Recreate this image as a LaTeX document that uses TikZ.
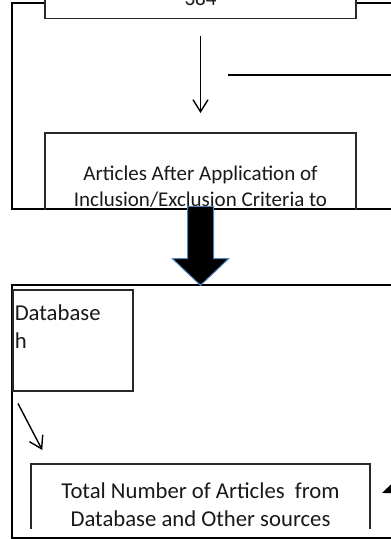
\documentclass[tikz,border=0pt]{standalone}
\usepackage{fontspec}
\setmainfont{Carlito}
\usepackage{tikz}
\usetikzlibrary{arrows.meta,shapes.arrows,calc}
\usetikzlibrary{positioning}

\definecolor{boxgray}{RGB}{40,40,40}
\definecolor{arrowblue}{RGB}{79,129,189}

\begin{document}
\begin{tikzpicture}[x=1pt,y=-1pt,>={Straight Barb[length=12pt,width=15pt]},
                    frame/.style={draw=black,line width=1.8pt},
                    box/.style={rectangle,draw=boxgray,line width=1.5pt,text=black!90},
                    small text/.style={font=\fontsize{21}{25.5}\selectfont},
                    big text/.style={font=\fontsize{22.7}{28.5}\selectfont},
                    flow/.style={->,line width=1.4pt},
                    block arrow/.style={single arrow,draw=arrowblue,fill=black,line width=1pt,
                        shape border rotate=270,inner sep=12.5pt,single arrow head extend=15pt,
                        single arrow tip angle=93,minimum height=79pt}]

\useasboundingbox (0,0) rectangle (391,539);
\clip (0,0) rectangle (391,539);

% upper panel
\draw[frame] (400,3) -| (12,209) -- (400,209);
\begin{scope}
\clip (12,-5) rectangle (400,209);
\node[box,small text,fill=white] (B1) at (200.5,19) [anchor=south, minimum width=311pt, minimum height=39pt] {384};
\node[box,small text,align=center] (B2) at (200.5,132) [anchor=north, minimum width=311pt, minimum height=108pt] {Articles After Application of\\Inclusion/Exclusion Criteria to};
\end{scope}
\coordinate (X1) at (228,75);
\coordinate (X2) at (400,75);

\path
    (B1) edge [flow,shorten <=17pt,shorten >=19pt] (B2)
    (X1) edge [line width=1.4pt] (X2)
    ;

% lower panel
\draw[frame] (400,285) -| (12,538) -- (400,538);
\begin{scope}
\clip (12,285) rectangle (400,528);
\node[box,big text] (DB) at (12,289) [anchor=north west, minimum width=120pt, minimum height=101pt, inner xsep=2pt, inner ysep=14.8pt] {\parbox[t][71.4pt][t]{116pt}{\raggedright Database\\h}};
\node[box,big text,align=center] (TN) at (200.5,463) [anchor=north, minimum width=339pt, minimum height=82pt] {Total Number of Articles\ \ from\\Database and Other sources};
\end{scope}
\coordinate (S1) at ($(DB.south west)+(6,12)$);
\coordinate (S2) at ($(TN.north west)+(12,-13)$);
\coordinate (R1) at (440,470);
\coordinate (R2) at (382,493);

\path
    (S1) edge [flow] (S2)
    (R1) edge [-{Triangle[length=14pt,width=11pt]},line width=1.4pt] (R2)
    ;

% arrow between the panels
\node[block arrow] (DA) at (200.5,286) [anchor=tip] {};
\end{tikzpicture}
\end{document}
